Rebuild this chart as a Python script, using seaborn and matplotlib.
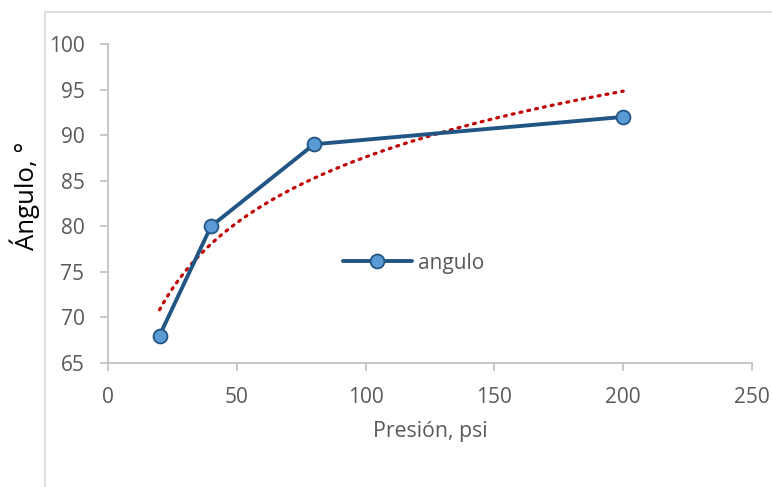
import numpy as np
import pandas as pd
import matplotlib
matplotlib.use("Agg")
import matplotlib.pyplot as plt
from matplotlib.lines import Line2D
import seaborn as sns

presion = [20, 40, 80, 200]
angulo = [68, 80, 89, 92]
x_ticks = [0, 50, 100, 150, 200, 250]
y_ticks = [65, 70, 75, 80, 85, 90, 95, 100]
series_name = "angulo"

sns.set_theme(style="white")
plt.rcParams['font.family'] = ['Open Sans', 'DejaVu Sans']

df = pd.DataFrame({"Presión": presion, series_name: angulo})

fig = plt.figure(figsize=(7.72, 4.87), dpi=100)
ax = fig.add_axes([108/772, 1-363/487, (752-108)/772, (363-44)/487])

line_col = "#215584"
sns.lineplot(data=df, x="Presión", y=series_name, ax=ax, color=line_col, lw=2.8,
             marker="o", markersize=10, markerfacecolor="#5B9BD5",
             markeredgecolor=line_col, markeredgewidth=1.3, label=series_name, zorder=3)

# logarithmic trendline (least squares fit of the data, as Excel does)
a, b = np.polyfit(np.log(presion), angulo, 1)
xt = np.linspace(min(presion), max(presion), 200)
ax.plot(xt, a*np.log(xt)+b, color="#C00000", lw=2.3, linestyle=(0, (0.6, 1.9)),
        dash_capstyle="round", zorder=2)

ax.set_xlim(0, 250)
ax.set_ylim(65, 100)
ax.set_xticks(x_ticks)
ax.set_yticks(y_ticks)
ax.tick_params(axis='both', colors="#BFBFBF", labelcolor="#595959", labelsize=15,
               length=5.5, width=1.2, direction='out', bottom=True, left=True)
ax.tick_params(axis='x', pad=11.5)
ax.tick_params(axis='y', pad=11.5)
for s in ["top", "right"]:
    ax.spines[s].set_visible(False)
for s in ["left", "bottom"]:
    ax.spines[s].set_color("#BFBFBF")
    ax.spines[s].set_linewidth(1.2)

ax.set_xlabel("Presión, psi", fontsize=15.3, color="#595959")
ax.set_ylabel("Ángulo, °", fontsize=18.5, color="black")
ax.xaxis.set_label_coords(0.5, (363-421)/319)
ax.yaxis.set_label_coords((40-108)/644, (363-196)/319)

leg = ax.legend(loc="center left", bbox_to_anchor=((343-108)/644, (363-263)/319),
                frameon=False, fontsize=15, handlelength=3.3, handletextpad=0.3,
                borderpad=0, borderaxespad=0)
for t in leg.get_texts():
    t.set_color("#595959")

# chart area border (partially visible)
fig.add_artist(Line2D([45/772, 45/772], [0, 1-12/487], color="#D9D9D9", lw=1.2))
fig.add_artist(Line2D([45/772, 1], [1-12/487, 1-12/487], color="#D9D9D9", lw=1.2))

fig.savefig("out.png", dpi=100)
